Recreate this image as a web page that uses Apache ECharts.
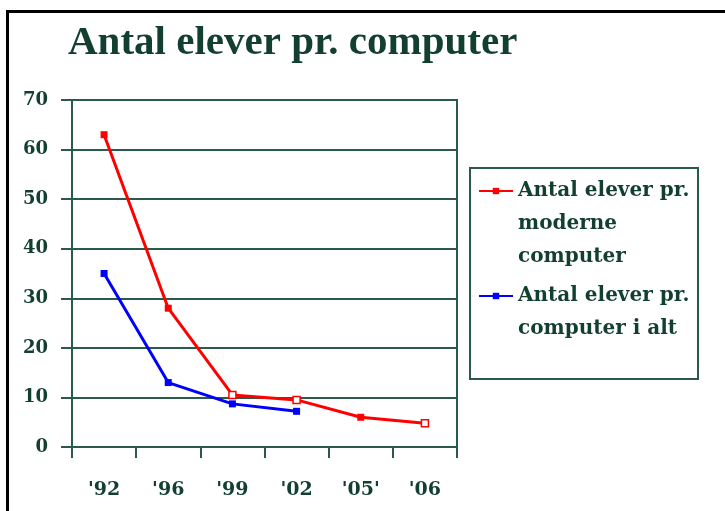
<!DOCTYPE html>
<html>
<head>
<meta charset="utf-8">
<script src="https://cdn.jsdelivr.net/npm/echarts@6/dist/echarts.min.js"></script>
<style>
  html, body { margin: 0; padding: 0; background: #fff; }
  #chart { width: 725px; height: 511px; }
</style>
</head>
<body>
<div id="chart"></div>
<script>
// data
const years = ["'92", "'96", "'99", "'02", "'05'", "'06"];
const moderneValues = [63, 28, 10.5, 9.5, 6, 4.8];
const iAltValues = [35, 13, 8.7, 7.2];
const yTicks = [0, 10, 20, 30, 40, 50, 60, 70];

const nameModerne = "Antal elever pr. moderne computer";
const nameIAlt = "Antal elever pr. computer i alt";

const green = "#2c5a4a";
const textGreen = "#123f30";
const red = "#ff0000";
const blue = "#0000ff";
const serif = "'DejaVu Serif', serif";

// some red markers are drawn hollow in the original
const hollow = [2, 3, 5];

// legend text is centred on the icon, so pad with empty lines on top
// to put the icon next to the first line
const legendLines = {};
legendLines[nameModerne] = "\n\nAntal elever pr.\nmoderne\ncomputer";
legendLines[nameIAlt] = "\nAntal elever pr.\ncomputer i alt";

const lh = 33;

const chart = echarts.init(document.getElementById("chart"), null, { renderer: "canvas" });

chart.setOption({
  backgroundColor: "#fff",
  animation: false,
  title: {
    text: "Antal elever pr. computer",
    left: 68,
    top: 23,
    padding: 0,
    textStyle: {
      fontFamily: "'Liberation Serif', serif",
      fontWeight: "bold",
      fontSize: 41,
      color: textGreen,
    },
  },
  graphic: [
    {
      // frame around the picture (top and left only)
      type: "polyline",
      shape: { points: [[7.5, 511], [7.5, 11.5], [725, 11.5]] },
      style: { stroke: "#000", lineWidth: 3, fill: null },
      silent: true,
    },
    {
      // legend box
      type: "rect",
      shape: { x: 470, y: 168, width: 228, height: 211 },
      style: { stroke: green, lineWidth: 2, fill: null },
      silent: true,
      z: 1,
    },
  ],
  grid: {
    left: 72,
    right: 268,
    top: 100,
    bottom: 64,
    show: true,
    borderColor: green,
    borderWidth: 2,
    backgroundColor: "transparent",
  },
  legend: {
    orient: "vertical",
    left: 478,
    top: 191 - (5 * lh) / 2,
    padding: 0,
    itemGap: 105 - (5 * lh) / 2 - (3 * lh) / 2,
    itemWidth: 34,
    itemHeight: 8,
    formatter: (name) => legendLines[name],
    textStyle: {
      fontFamily: serif,
      fontWeight: "bold",
      fontSize: 20,
      lineHeight: lh,
      color: textGreen,
    },
    data: [nameModerne, nameIAlt],
  },
  xAxis: {
    type: "category",
    data: years,
    boundaryGap: true,
    axisLine: { show: true, lineStyle: { color: green, width: 2 } },
    axisTick: { show: true, length: 11, lineStyle: { color: green, width: 2 } },
    axisLabel: {
      margin: 34,
      fontFamily: serif,
      fontWeight: "bold",
      fontSize: 19,
      color: textGreen,
    },
    splitLine: { show: false },
  },
  yAxis: {
    type: "value",
    min: yTicks[0],
    max: yTicks[yTicks.length - 1],
    interval: 10,
    axisLine: { show: true, lineStyle: { color: green, width: 2 } },
    axisTick: { show: true, length: 11, lineStyle: { color: green, width: 2 } },
    axisLabel: {
      margin: 24,
      fontFamily: serif,
      fontWeight: "bold",
      fontSize: 18,
      color: textGreen,
    },
    splitLine: { show: true, lineStyle: { color: green, width: 2 } },
  },
  series: [
    {
      name: nameModerne,
      type: "line",
      data: moderneValues.map((v, i) =>
        hollow.includes(i)
          ? { value: v, itemStyle: { color: "#fff", borderColor: red, borderWidth: 1.5 } }
          : v
      ),
      symbol: "rect",
      symbolSize: 7,
      lineStyle: { color: red, width: 3 },
      itemStyle: { color: red },
      z: 3,
    },
    {
      name: nameIAlt,
      type: "line",
      data: iAltValues,
      symbol: "rect",
      symbolSize: 7,
      lineStyle: { color: blue, width: 3 },
      itemStyle: { color: blue },
      z: 3,
    },
  ],
});
</script>
</body>
</html>
